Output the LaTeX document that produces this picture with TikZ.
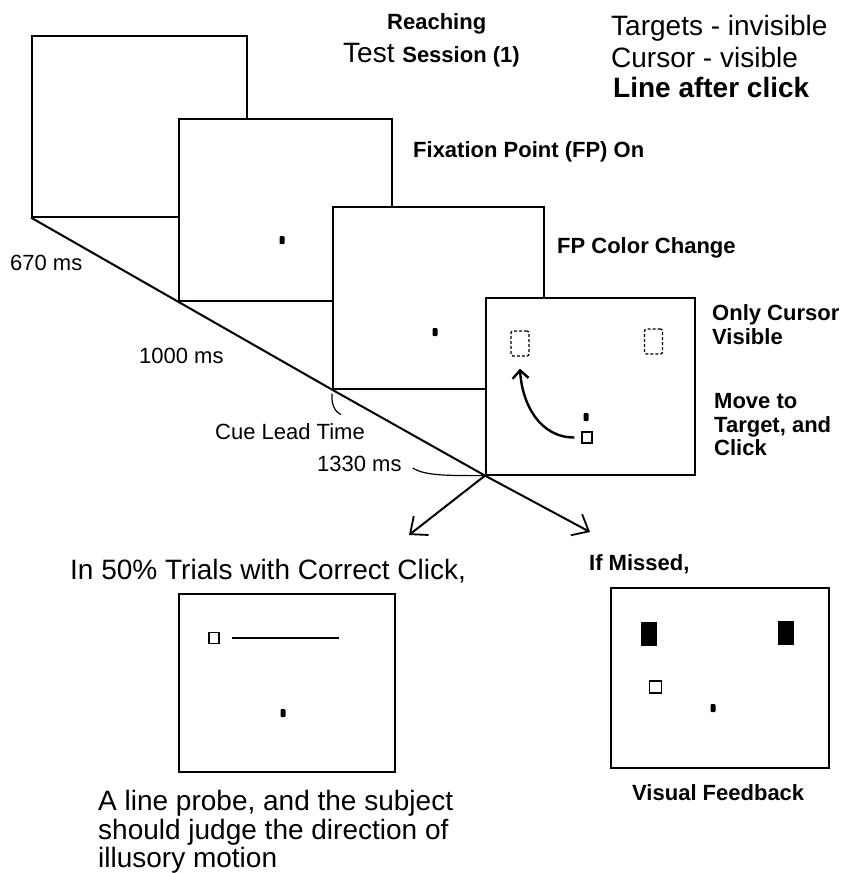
\documentclass[tikz,border=0pt]{standalone}
\usepackage{fontspec}
\setmainfont{Liberation Sans}
\usetikzlibrary{arrows.meta}
\begin{document}
\begin{tikzpicture}[x=1pt,y=-1pt,
  screen/.style={draw=black,fill=white,line width=1.6pt,inner sep=0,anchor=north west,minimum width=#1},
  screen/.default=214pt,
  fp/.style={fill=black,inner sep=0,minimum width=5pt,minimum height=8pt,rounded corners=1pt},
  cursor/.style={draw=black,line width=1.3pt,inner sep=0,minimum width=10pt,minimum height=11pt},
  tgtdash/.style={draw=black,line width=1.3pt,dash pattern=on 3pt off 2pt,inner sep=0,minimum width=18pt,minimum height=25pt,rounded corners=2pt},
  tgtfill/.style={fill=black,inner sep=0,minimum width=16pt,minimum height=24pt},
  big/.style={font=\fontsize{28}{30}\selectfont,inner sep=0,anchor=base west},
  bigb/.style={font=\fontsize{28}{30}\selectfont\bfseries,inner sep=0,anchor=base west},
  small/.style={font=\fontsize{22}{24}\selectfont,inner sep=0,anchor=base west},
  smallb/.style={font=\fontsize{22}{24}\selectfont\bfseries,inner sep=0,anchor=base west},
  diag/.style={line width=2pt},
  barb/.style={-{Straight Barb[length=14pt,width=24pt,line width=1.8pt]}},
  leader/.style={line width=1.2pt}
]
\useasboundingbox[fill=white] (0,0) rectangle (854,873);

% timeline screens
\node[screen=215pt,minimum height=181pt] (s1) at (31,35) {};
\node[screen=213pt,minimum height=182pt] (s2) at (178,118) {};
\node[screen=211pt,minimum height=182pt] (s3) at (332,206) {};
\node[screen=209pt,minimum height=177pt] (s4) at (485,297) {};

% fixation points
\node[fp] (d2) at (282,240) {};
\node[fp] (d3) at (435,332) {};
\node[fp] (d4) at (586,417) {};

% screen 4 content
\node[tgtdash] (t4a) at (520,343.5) {};
\node[tgtdash] (t4b) at (653.5,341.5) {};
\node[cursor] (c4) at (587,437.5) {};
\draw[line width=2.4pt,-{Straight Barb[length=8pt,width=16pt,line width=2.4pt]}]
  ([xshift=-7pt]c4.west) .. controls +(-35,0) and +(2,35) .. ([yshift=-12pt]t4a.south);

% timeline
\coordinate (tipR) at (590,532);
\coordinate (tipL) at (409,535);
\draw[diag,barb] (s1.south west) -- (s2.south west) -- (s3.south west) -- (s4.south west) -- (tipR);
\draw[diag,barb] (s4.south west) -- (tipL);

% labels on the timeline
\node[small] (t670) at (10,270) {670 ms};
\node[small] (t1000) at (139,363) {1000 ms};
\node[small] (tcue) at (215,439) {Cue Lead Time};
\node[small] (t1330) at (317,471) {1330 ms};
\draw[leader] ([yshift=-4pt]s3.south west) .. controls +(-1,12) and +(-5,-2) .. ([shift={(9pt,-25pt)}]s3.south west);
\draw[leader] ([xshift=11pt,yshift=3pt]t1330.base east) .. controls +(12,8) and +(-35,0) .. (s4.south west);

% titles
\node[smallb] (reach) at (387,29) {Reaching};
\node[big] (title) at (343,62) {Test {\fontsize{22}{24}\selectfont\bfseries Session (1)}};
\node[big] (cond1) at (611,35) {Targets - invisible};
\node[big] (cond2) at (611,67) {Cursor - visible};
\node[bigb] (cond3) at (613,97) {Line after click};

% step labels
\node[smallb] (lfp) at (413,157) {Fixation Point (FP) On};
\node[smallb] (lcc) at (557,253) {FP Color Change};
\node[smallb] (loc1) at (712,320) {Only Cursor};
\node[smallb] (loc2) at (712,344) {Visible};
\node[smallb] (lmv1) at (714,408) {Move to};
\node[smallb] (lmv2) at (714,432) {Target, and};
\node[smallb] (lmv3) at (714,455) {Click};

% lower left outcome
\node[big] (lcorr) at (70,579) {In 50\% Trials with Correct Click,};
\node[screen=216pt,minimum height=178pt] (s5) at (178,593) {};
\node[cursor] (c5) at (214,638) {};
\draw[line width=1.6pt] (232,638) -- (339,638);
\node[fp] (d5) at (283,713) {};
\node[big] (lp1) at (98,810) {A line probe, and the subject};
\node[big] (lp2) at (98,839) {should judge the direction of};
\node[big] (lp3) at (98,867) {illusory motion};

% lower right outcome
\node[smallb] (lmiss) at (589,570) {If Missed,};
\node[screen=218pt,minimum height=180pt] (s6) at (610,587) {};
\node[tgtfill] (t6a) at (649,634) {};
\node[tgtfill] (t6b) at (786,632.5) {};
\node[cursor,minimum width=12pt,minimum height=12pt] (c6) at (655.5,687) {};
\node[fp] (d6) at (713,708) {};
\node[smallb] (lvf) at (632,800) {Visual Feedback};
\end{tikzpicture}
\end{document}
